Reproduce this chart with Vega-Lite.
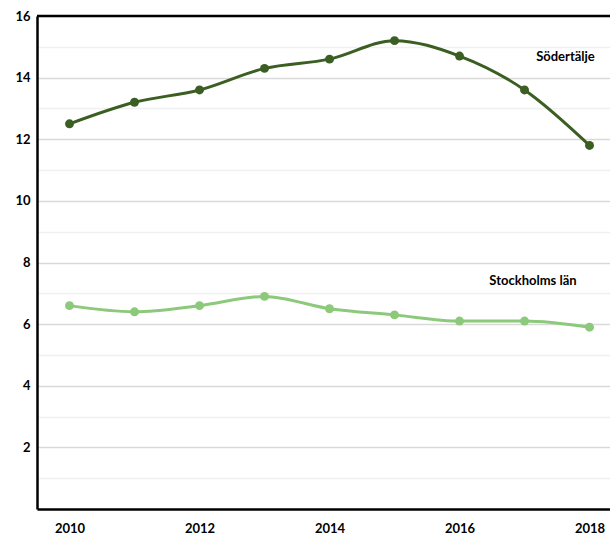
{
  "$schema": "https://vega.github.io/schema/vega-lite/v6.json",
  "autosize": {"type": "none"},
  "padding": {"left": 37, "top": 16, "right": 0, "bottom": 25},
  "width": 573,
  "height": 493,
  "background": "white",
  "config": {
    "view": {"stroke": null},
    "font": "Lato",
    "axis": {"labelFont": "Lato", "labelFontWeight": "bold", "labelFontSize": 13, "labelColor": "#000000", "ticks": false, "title": null, "labelOverlap": false}
  },
  "datasets": {
    "series": [
      {"year": 2010, "value": 12.5, "series": "Södertälje"},
      {"year": 2011, "value": 13.2, "series": "Södertälje"},
      {"year": 2012, "value": 13.6, "series": "Södertälje"},
      {"year": 2013, "value": 14.3, "series": "Södertälje"},
      {"year": 2014, "value": 14.6, "series": "Södertälje"},
      {"year": 2015, "value": 15.2, "series": "Södertälje"},
      {"year": 2016, "value": 14.7, "series": "Södertälje"},
      {"year": 2017, "value": 13.6, "series": "Södertälje"},
      {"year": 2018, "value": 11.8, "series": "Södertälje"},
      {"year": 2010, "value": 6.6, "series": "Stockholms län"},
      {"year": 2011, "value": 6.4, "series": "Stockholms län"},
      {"year": 2012, "value": 6.6, "series": "Stockholms län"},
      {"year": 2013, "value": 6.9, "series": "Stockholms län"},
      {"year": 2014, "value": 6.5, "series": "Stockholms län"},
      {"year": 2015, "value": 6.3, "series": "Stockholms län"},
      {"year": 2016, "value": 6.1, "series": "Stockholms län"},
      {"year": 2017, "value": 6.1, "series": "Stockholms län"},
      {"year": 2018, "value": 5.9, "series": "Stockholms län"}
    ],
    "labels": [
      {"year": 2017.63, "value": 14.68, "series": "Södertälje"},
      {"year": 2017.13, "value": 7.4, "series": "Stockholms län"}
    ]
  },
  "resolve": {"axis": {"y": "independent"}},
  "layer": [
    {
      "data": {"name": "labels"},
      "mark": {"type": "text", "opacity": 0},
      "encoding": {
        "x": {"field": "year", "type": "quantitative",
              "scale": {"domain": [2009.5, 2018.315], "nice": false, "zero": false},
              "axis": {"values": [2010, 2012, 2014, 2016, 2018], "format": "d", "grid": false, "domainColor": "#000000", "domainWidth": 2.5, "labelPadding": 13}},
        "y": {"field": "value", "type": "quantitative",
              "scale": {"domain": [0, 16], "nice": false},
              "axis": {"orient": "left", "values": [1,3,5,7,9,11,13,15], "grid": true, "gridColor": "#f0f0f0", "gridWidth": 1.5, "labels": false, "domain": false, "ticks": false}},
        "text": {"field": "series"}
      }
    },
    {
      "data": {"name": "series"},
      "mark": {"type": "line", "interpolate": "monotone", "strokeWidth": 3, "point": {"size": 80, "filled": true, "opacity": 1}},
      "encoding": {
        "x": {"field": "year", "type": "quantitative"},
        "y": {"field": "value", "type": "quantitative",
              "axis": {"orient": "left", "values": [0,2,4,6,8,10,12,14,16],
                       "labelExpr": "datum.value === 0 ? '' : datum.label",
                       "grid": true, "gridColor": "#d9d9d9", "gridWidth": 1.5,
                       "domainColor": "#000000", "domainWidth": 2.5, "labelPadding": 7}},
        "color": {"field": "series", "type": "nominal",
                  "scale": {"domain": ["Södertälje", "Stockholms län"], "range": ["#3b5e22", "#8cc97a"]},
                  "legend": null}
      }
    },
    {
      "data": {"values": [{}]},
      "mark": {"type": "rule", "color": "#000000", "strokeWidth": 2.5},
      "encoding": {"y": {"datum": 16, "type": "quantitative", "axis": null}}
    },
    {
      "data": {"name": "labels"},
      "mark": {"type": "text", "font": "Lato", "fontWeight": "bold", "fontSize": 13, "color": "#000000", "align": "center", "baseline": "middle"},
      "encoding": {
        "x": {"field": "year", "type": "quantitative"},
        "y": {"field": "value", "type": "quantitative", "axis": null},
        "text": {"field": "series"}
      }
    }
  ]
}
